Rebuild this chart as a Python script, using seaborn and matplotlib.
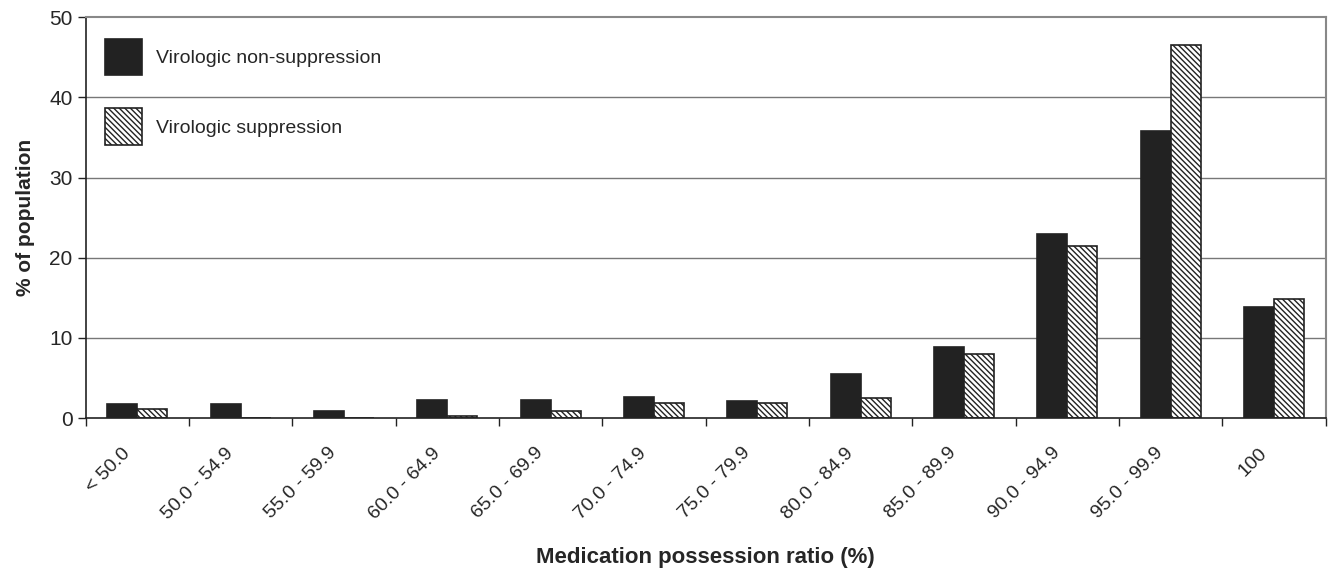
import numpy as np
import pandas as pd
import seaborn as sns
import matplotlib.pyplot as plt
import matplotlib.transforms as mtransforms

# Data
categories = ['< 50.0', '50.0 - 54.9', '55.0 - 59.9', '60.0 - 64.9', '65.0 - 69.9',
              '70.0 - 74.9', '75.0 - 79.9', '80.0 - 84.9', '85.0 - 89.9',
              '90.0 - 94.9', '95.0 - 99.9', '100']
non_suppression = [1.7, 1.7, 0.9, 2.2, 2.2, 2.6, 2.1, 5.5, 8.9, 23.0, 35.8, 13.9]
suppression = [1.2, 0.0, 0.0, 0.3, 0.9, 1.9, 1.9, 2.5, 8.0, 21.5, 46.5, 14.9]
series = ['Virologic non-suppression', 'Virologic suppression']

df = pd.DataFrame({
    'mpr': categories * 2,
    'pct': non_suppression + suppression,
    'group': [series[0]] * len(categories) + [series[1]] * len(categories),
})

sns.set_style('white')
plt.rcParams['font.family'] = ['Liberation Sans', 'DejaVu Sans']
plt.rcParams['hatch.linewidth'] = 1.0
hatch = '\\\\\\\\\\\\'

fig, ax = plt.subplots(figsize=(13.39, 5.72), dpi=100)
fig.subplots_adjust(left=0.064, right=0.99, top=0.97, bottom=0.269)

sns.barplot(data=df, x='mpr', y='pct', hue='group', order=categories,
            hue_order=series, palette=['#222222', 'white'], width=0.58,
            gap=0, edgecolor='#222222', linewidth=1.2, saturation=1,
            ax=ax, legend=True)

# hatch the suppression bars
n = len(categories)
for i, bar in enumerate(ax.patches[:2 * n]):
    if i >= n:
        bar.set_hatch(hatch)

ax.set_ylim(0, 50)
ax.set_xlim(-0.5, n - 0.5)
ax.set_yticks(range(0, 51, 10))
for y in range(10, 50, 10):
    ax.axhline(y, color='#777777', lw=1, zorder=0)

# ticks at category boundaries, labels at category centres
ax.set_xticks(np.arange(n))
ax.set_xticklabels(categories, rotation=45, ha='right', rotation_mode='anchor', fontsize=14)
ax.set_xticks(np.arange(-0.5, n, 1), minor=True)
ax.tick_params(axis='x', which='major', length=0, pad=19)
ax.tick_params(axis='x', which='minor', length=6, width=1, color='#222222', bottom=True)
ax.tick_params(axis='y', length=6, width=1, color='#222222', left=True, labelsize=15)
shift = mtransforms.ScaledTranslation(-16 / 100, 0, fig.dpi_scale_trans)
for lab in ax.get_xticklabels():
    lab.set_transform(lab.get_transform() + shift)

for side in ['left', 'bottom']:
    ax.spines[side].set_color('#222222')
    ax.spines[side].set_linewidth(1.2)
for side in ['top', 'right']:
    ax.spines[side].set_color('#888888')
    ax.spines[side].set_linewidth(1.5)

ax.set_xlabel('Medication possession ratio (%)', fontsize=16, fontweight='bold', labelpad=18)
ax.set_ylabel('% of population', fontsize=15, fontweight='bold', labelpad=10)

handles, labels = ax.get_legend_handles_labels()
handles[1].set_hatch(hatch)
ax.legend(handles, labels, loc='upper left',
          bbox_to_anchor=(105 / 1339, 1 - 39 / 572), bbox_transform=fig.transFigure,
          frameon=False, fontsize=14, handlelength=1.9, handleheight=2.5,
          labelspacing=1.7, handletextpad=0.72, borderaxespad=0, borderpad=0)

plt.savefig('out.png', dpi=100)
